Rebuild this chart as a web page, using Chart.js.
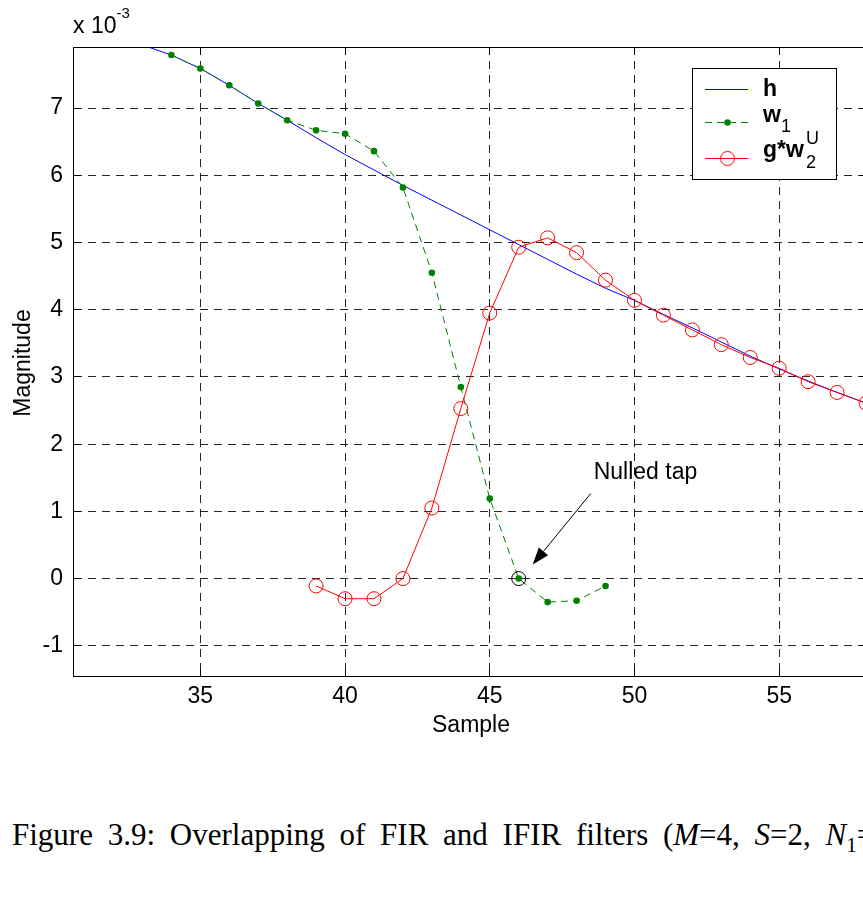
<!DOCTYPE html>
<html>
<head>
<meta charset="utf-8">
<script src="https://cdn.jsdelivr.net/npm/chart.js@4.4.0/dist/chart.umd.min.js"></script>
<style>
  html, body { margin: 0; padding: 0; background: #fff; overflow: hidden; }
  #wrap { position: relative; width: 863px; height: 909px; overflow: hidden; }
  #plot { position: absolute; left: 0; top: 0; }
  #caption {
    position: absolute; left: 12px; top: 820px; white-space: nowrap;
    font-family: "Liberation Serif", "Times New Roman", serif;
    font-size: 31px; line-height: 30px; word-spacing: 7px; color: #000;
  }
  #caption sub { font-size: 21px; line-height: 0; }
</style>
</head>
<body>
<div id="wrap">
  <canvas id="plot" width="900" height="760"></canvas>
  <div id="caption">Figure 3.9: Overlapping of FIR and IFIR filters (<i>M</i>=4, <i>S</i>=2, <i>N</i><sub>1</sub>=50)</div>
</div>
<script>
// FIR prototype h (x 1e-3)
const hSamples = [33, 34, 35, 36, 37, 38, 39, 40, 41, 42, 43, 44, 45, 46, 47, 48, 49, 50, 51, 52, 53, 54, 55, 56, 57, 58];
const hValues  = [7.94, 7.79, 7.59, 7.34, 7.07, 6.82, 6.56, 6.31, 6.08, 5.85, 5.63, 5.41, 5.19, 4.97, 4.75, 4.53, 4.32, 4.14, 3.93, 3.73, 3.52, 3.31, 3.12, 2.94, 2.77, 2.61];

// w1 taps
const w1Samples = [34, 35, 36, 37, 38, 39, 40, 41, 42, 43, 44, 45, 46, 47, 48, 49];
const w1Values  = [7.79, 7.59, 7.34, 7.07, 6.82, 6.67, 6.62, 6.36, 5.82, 4.55, 2.85, 1.19, 0, -0.35, -0.33, -0.11];

// g * w2^U
const gwSamples = [39, 40, 41, 42, 43, 44, 45, 46, 47, 48, 49, 50, 51, 52, 53, 54, 55, 56, 57, 58];
const gwValues  = [-0.11, -0.30, -0.30, 0, 1.05, 2.53, 3.95, 4.93, 5.07, 4.85, 4.44, 4.14, 3.92, 3.70, 3.48, 3.29, 3.13, 2.93, 2.77, 2.61];

// the tap forced to zero
const nulledSample = [46];
const nulledValue = [0];

const xTicks = [35, 40, 45, 50, 55];
const yTicks = [-1, 0, 1, 2, 3, 4, 5, 6, 7];

const pts = (xs, ys) => xs.map((v, i) => ({ x: v, y: ys[i] }));

const FONT = '"Liberation Sans", Arial, Helvetica, sans-serif';

function textWithScripts(ctx, x, y, parts) {
  // parts: [text, size, weight, dy]
  let cx = x;
  parts.forEach(([t, size, weight, dy]) => {
    ctx.font = `${weight} ${size}px ${FONT}`;
    ctx.fillText(t, cx, y + dy);
    cx += ctx.measureText(t).width;
  });
}

const decorations = {
  id: 'decorations',
  afterDraw(chart) {
    const { ctx, chartArea: a, scales: { x, y } } = chart;
    ctx.save();
    ctx.strokeStyle = '#000';
    ctx.fillStyle = '#000';
    ctx.lineWidth = 1;

    // axes box
    const L = Math.round(a.left) + 0.5, R = Math.round(a.right) + 0.5;
    const T = Math.round(a.top) + 0.5, B = Math.round(a.bottom) + 0.5;
    ctx.strokeRect(L, T, R - L, B - T);

    // inward tick marks
    ctx.beginPath();
    xTicks.forEach(v => {
      const px = Math.round(x.getPixelForValue(v) - 0.5) + 0.5;
      ctx.moveTo(px, B); ctx.lineTo(px, B - 7);
      ctx.moveTo(px, T); ctx.lineTo(px, T + 7);
    });
    yTicks.forEach(v => {
      const py = Math.round(y.getPixelForValue(v) - 0.5) + 0.5;
      ctx.moveTo(L, py); ctx.lineTo(L + 7, py);
      ctx.moveTo(R, py); ctx.lineTo(R - 7, py);
    });
    ctx.stroke();

    // exponent label
    ctx.textBaseline = 'alphabetic';
    ctx.textAlign = 'left';
    textWithScripts(ctx, 73, 33, [['x 10', 23, 'normal', 0], ['-3', 15, 'normal', -15]]);

    // axis titles
    ctx.font = `23px ${FONT}`;
    ctx.textAlign = 'center';
    ctx.textBaseline = 'middle';
    ctx.fillText('Sample', 471, 726);
    ctx.save();
    ctx.translate(24, 363);
    ctx.rotate(-Math.PI / 2);
    ctx.fillText('Magnitude', 0, 0);
    ctx.restore();

    // annotation for the nulled tap
    const nx = x.getPixelForValue(nulledSample[0]);
    const ny = y.getPixelForValue(nulledValue[0]);
    const tipX = nx + 14, tipY = ny - 14;
    const tailX = nx + 72, tailY = ny - 85;
    const ang = Math.atan2(tipY - tailY, tipX - tailX);
    const hl = 17, hw = 6;
    const bx = tipX - hl * Math.cos(ang), by = tipY - hl * Math.sin(ang);
    ctx.beginPath();
    ctx.moveTo(tailX, tailY);
    ctx.lineTo(bx, by);
    ctx.stroke();
    ctx.beginPath();
    ctx.moveTo(tipX, tipY);
    ctx.lineTo(bx + hw * Math.sin(ang), by - hw * Math.cos(ang));
    ctx.lineTo(bx - hw * Math.sin(ang), by + hw * Math.cos(ang));
    ctx.closePath();
    ctx.fill();
    ctx.textAlign = 'left';
    ctx.textBaseline = 'middle';
    ctx.font = `23px ${FONT}`;
    ctx.fillText('Nulled tap', nx + 75, ny - 106);

    // legend
    ctx.fillStyle = '#fff';
    ctx.fillRect(693, 69, 144, 111);
    ctx.strokeStyle = '#000';
    ctx.strokeRect(692.5, 68.5, 144, 111);

    ctx.lineWidth = 1;
    ctx.strokeStyle = '#0000ff';
    ctx.beginPath(); ctx.moveTo(705, 89.5); ctx.lineTo(748, 89.5); ctx.stroke();

    ctx.strokeStyle = '#008000';
    ctx.setLineDash([7, 5]);
    ctx.beginPath(); ctx.moveTo(705, 122.5); ctx.lineTo(748, 122.5); ctx.stroke();
    ctx.setLineDash([]);
    ctx.fillStyle = '#008000';
    ctx.beginPath(); ctx.arc(727.5, 122.5, 3.3, 0, Math.PI * 2); ctx.fill();

    ctx.strokeStyle = '#ff0000';
    ctx.beginPath(); ctx.moveTo(705, 158.5); ctx.lineTo(748, 158.5); ctx.stroke();
    ctx.beginPath(); ctx.arc(727.5, 158.5, 7, 0, Math.PI * 2); ctx.stroke();

    ctx.fillStyle = '#000';
    ctx.textBaseline = 'alphabetic';
    textWithScripts(ctx, 763, 96, [['h', 23, 'bold', 0]]);
    textWithScripts(ctx, 763, 122, [['w', 23, 'bold', 0], ['1', 18, 'normal', 10]]);
    textWithScripts(ctx, 763, 157, [['g*w', 23, 'bold', 0]]);
    ctx.font = `18px ${FONT}`;
    ctx.fillText('2', 806, 168);
    ctx.fillText('U', 806, 144);

    ctx.restore();
  }
};

new Chart(document.getElementById('plot'), {
  type: 'line',
  data: {
    datasets: [
      {
        label: 'g*w2U',
        data: pts(gwSamples, gwValues),
        borderColor: '#ff0000',
        borderWidth: 1,
        pointRadius: 7,
        pointBorderWidth: 1,
        pointBorderColor: '#ff0000',
        pointBackgroundColor: 'rgba(0,0,0,0)',
        tension: 0,
        order: 0
      },
      {
        label: 'nulled',
        data: pts(nulledSample, nulledValue),
        showLine: false,
        pointRadius: 7,
        pointBorderWidth: 1,
        pointBorderColor: '#000',
        pointBackgroundColor: 'rgba(0,0,0,0)',
        order: 1
      },
      {
        label: 'w1',
        data: pts(w1Samples, w1Values),
        borderColor: '#008000',
        borderWidth: 1,
        borderDash: [7, 5],
        pointRadius: 3.3,
        pointBorderWidth: 0,
        pointBackgroundColor: '#008000',
        tension: 0,
        order: 2
      },
      {
        label: 'h',
        data: pts(hSamples, hValues),
        borderColor: '#0000ff',
        borderWidth: 1,
        pointRadius: 0,
        tension: 0,
        order: 3
      }
    ]
  },
  options: {
    responsive: false,
    animation: false,
    events: [],
    layout: { padding: { top: 47, left: 0, right: 34, bottom: 0 } },
    plugins: { legend: { display: false }, tooltip: { enabled: false } },
    scales: {
      x: {
        type: 'linear',
        min: 30.6,
        max: 58,
        afterBuildTicks: s => { s.ticks = xTicks.map(v => ({ value: v })); },
        afterFit: s => { s.height = 84; },
        ticks: { color: '#000', font: { family: FONT, size: 23 }, padding: 7, maxRotation: 0, callback: v => String(v) },
        grid: { color: 'rgba(0,0,0,0.85)', lineWidth: 1, drawTicks: false },
        border: { display: true, color: '#000', width: 1, dash: [8, 6] }
      },
      y: {
        type: 'linear',
        min: -1.45,
        max: 7.91,
        afterBuildTicks: s => { s.ticks = yTicks.map(v => ({ value: v })); },
        afterFit: s => { s.width = 73; },
        ticks: { color: '#000', font: { family: FONT, size: 23 }, padding: 10, callback: v => String(v) },
        grid: { color: 'rgba(0,0,0,0.85)', lineWidth: 1, drawTicks: false },
        border: { display: true, color: '#000', width: 1, dash: [8, 6] }
      }
    }
  },
  plugins: [decorations]
});
</script>
</body>
</html>
